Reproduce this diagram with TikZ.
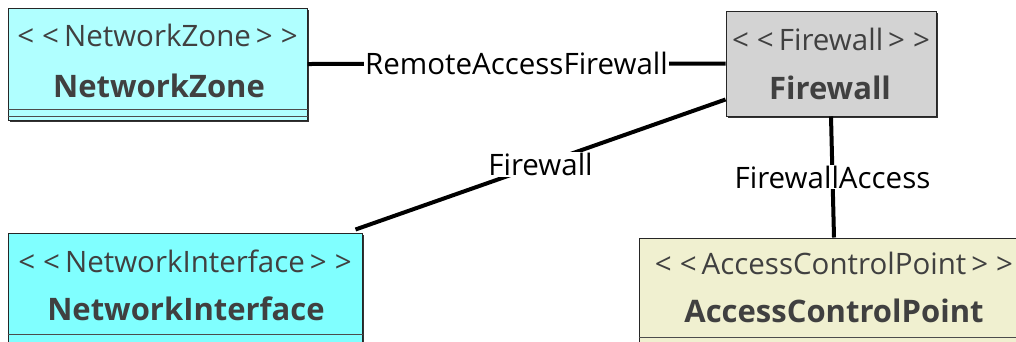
\documentclass[tikz,border=0pt]{standalone}
\usepackage{fontspec}
\setmainfont{Open Sans}
\usepackage[x11names]{xcolor}
\usepackage{tikz}
\usetikzlibrary{calc}
\usetikzlibrary{shadows}

\definecolor{ZoneCyan}{RGB}{176,255,255}
\definecolor{IfaceCyan}{RGB}{128,255,255}
\definecolor{WallGray}{RGB}{211,211,211}
\definecolor{PointCream}{RGB}{240,240,208}
\definecolor{TextGray}{RGB}{64,64,64}

\newcommand{\stereotext}[1]{<\kern8pt<\kern5pt#1\kern5pt>\kern8pt>}

\begin{document}
\begin{tikzpicture}[x = 1pt, y = -1pt,
    classbox/.style = {draw = black!85, line width = 1pt, inner sep = 0pt,
        drop shadow = {shadow xshift = 2pt, shadow yshift = -2pt, fill = black!80, opacity = 1}},
    stereo/.style = {TextGray, anchor = base, inner sep = 0pt, font = \fontsize{29.5}{32}\selectfont},
    cname/.style = {TextGray, anchor = base, inner sep = 0pt, font = \fontsize{31}{34}\selectfont\bfseries},
    compline/.style = {draw = black!70, line width = 0.8pt},
    assoc/.style = {line width = 4pt},
    assoclabel/.style = {fill = white, inner sep = 1pt, font = \fontsize{29.5}{32}\selectfont}]
    \useasboundingbox (0, 0) rectangle (1016, 341);
    \clip (0, 0) rectangle (1016, 341);
    \fill [white] (0, 0) rectangle (1016, 341);

    % class boxes
    \node [classbox, fill = ZoneCyan, minimum width = 299pt, minimum height = 112pt] (nz) at (157.5, 64) {};
    \node [classbox, fill = WallGray, minimum width = 210pt, minimum height = 105pt] (fw) at (831, 63.5) {};
    \node [classbox, fill = IfaceCyan, minimum width = 354pt, minimum height = 112pt] (ni) at (185, 289) {};
    \node [classbox, fill = PointCream, minimum width = 390pt, minimum height = 112pt] (acp) at (834, 294) {};

    \draw [compline] ($(nz.north west) + (0, 102)$) -- ($(nz.north east) + (0, 102)$);
    \draw [compline] ($(nz.north west) + (0, 109)$) -- ($(nz.north east) + (0, 109)$);
    \draw [compline] ($(ni.north west) + (0, 102)$) -- ($(ni.north east) + (0, 102)$);
    \draw [compline] ($(acp.north west) + (0, 100)$) -- ($(acp.north east) + (0, 100)$);

    \node [stereo] (nzst) at (157.5, 46) {\stereotext{NetworkZone}};
    \node [cname] (nzname) at (159, 97) {NetworkZone};
    \node [stereo] (fwst) at (831, 50) {\stereotext{Firewall}};
    \node [cname] (fwname) at (830, 99) {Firewall};
    \node [stereo] (nist) at (185, 272) {\stereotext{NetworkInterface}};
    \node [cname] (niname) at (186, 320) {NetworkInterface};
    \node [stereo] (acpst) at (834, 274) {\stereotext{AccessControlPoint}};
    \node [cname] (acpname) at (834, 322) {AccessControlPoint};

    % associations
    \draw [assoc] (nz.east) -- node [assoclabel] (remlbl) {RemoteAccessFirewall} (fw.west);
    \draw [assoc] ($(fw.south west) + (0, -17)$) -- node [assoclabel] (fwlbl) {Firewall} ($(ni.north east) + (-7, -3)$);
    \draw [assoc] (fw.south) -- node [assoclabel] (acclbl) {FirewallAccess} (acp.north);
\end{tikzpicture}
\end{document}
